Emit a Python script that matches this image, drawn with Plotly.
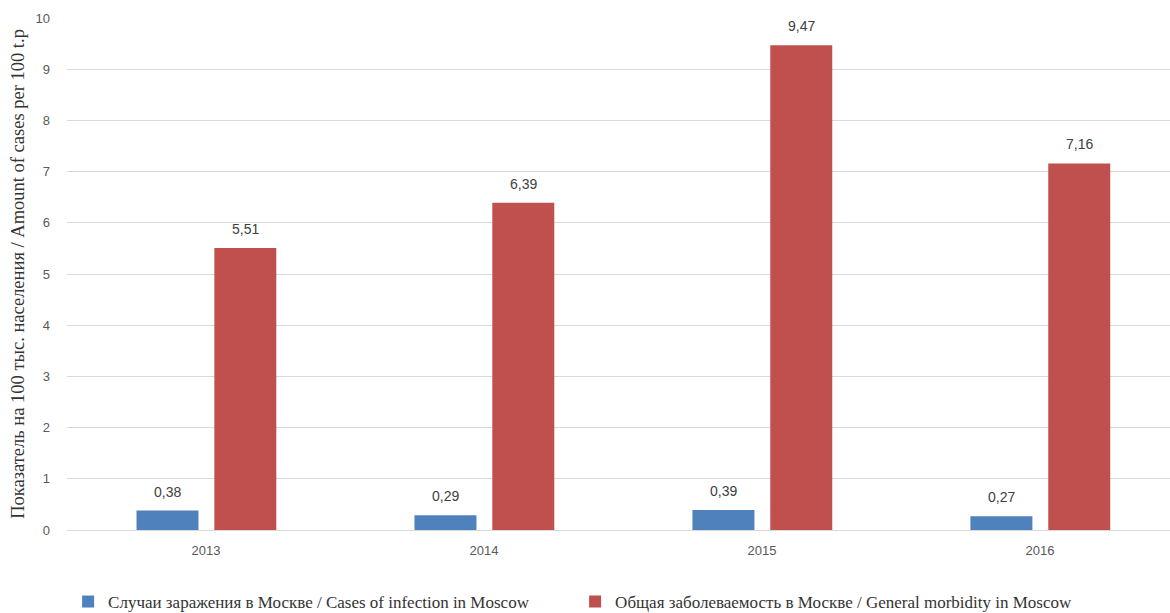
import plotly.graph_objects as go

years = ["2013", "2014", "2015", "2016"]
infection = [0.38, 0.29, 0.39, 0.27]
morbidity = [5.51, 6.39, 9.47, 7.16]
name_infection = "Случаи заражения в Москве / Cases of infection in Moscow"
name_morbidity = "Общая заболеваемость в Москве / General morbidity in Moscow"
y_title = "Показатель на 100 тыс. населения / Amount of cases per 100 t.p"

label_font = dict(family="Liberation Sans, Arial", size=14, color="#404040")
BAR_W = 0.223
OFF_BLUE = -0.25
OFF_RED = 0.03

fig = go.Figure()
fig.add_trace(go.Bar(
    x=years, y=infection, name=name_infection,
    marker=dict(color="#4F81BD", line=dict(width=0)),
    width=BAR_W, offset=OFF_BLUE,
))
fig.add_trace(go.Bar(
    x=years, y=morbidity, name=name_morbidity,
    marker=dict(color="#C0504D", line=dict(width=0)),
    width=BAR_W, offset=OFF_RED,
))

annotations = []
for vals, off in ((infection, OFF_BLUE), (morbidity, OFF_RED)):
    for i, v in enumerate(vals):
        annotations.append(dict(
            x=i + off + BAR_W / 2, y=v, xref="x", yref="y",
            text=f"{v:.2f}".replace(".", ","),
            showarrow=False, yshift=9, yanchor="bottom",
            font=label_font,
        ))

fig.update_layout(
    width=1170, height=613,
    margin=dict(l=67, r=0, t=18, b=83),
    paper_bgcolor="white", plot_bgcolor="white",
    separators=",.",
    barmode="overlay",
    showlegend=True,
    annotations=annotations,
    legend=dict(
        orientation="h", x=0.001, xanchor="left",
        yref="container", y=0.018, yanchor="middle",
        font=dict(family="Liberation Serif, Times New Roman", size=17, color="#333333"),
        entrywidth=462, entrywidthmode="pixels", itemwidth=30,
        bgcolor="rgba(0,0,0,0)",
    ),
    xaxis=dict(
        type="category", range=[-0.5, 3.468], automargin=False,
        showgrid=False, showline=False, ticks="", ticklabelstandoff=11,
        tickfont=dict(family="Liberation Sans, Arial", size=13, color="#595959"),
    ),
    yaxis=dict(
        range=[0, 10], dtick=1, showgrid=True, gridcolor="#D9D9D9", gridwidth=1,
        zeroline=True, zerolinecolor="#D9D9D9", zerolinewidth=1,
        showline=False, ticks="", ticklabelstandoff=16, automargin=False,
        tickfont=dict(family="Liberation Sans, Arial", size=13, color="#595959"),
        title=dict(text=y_title, standoff=6,
                   font=dict(family="Liberation Serif, Times New Roman", size=18.5, color="#333333")),
    ),
)

fig.write_html("out.html")
